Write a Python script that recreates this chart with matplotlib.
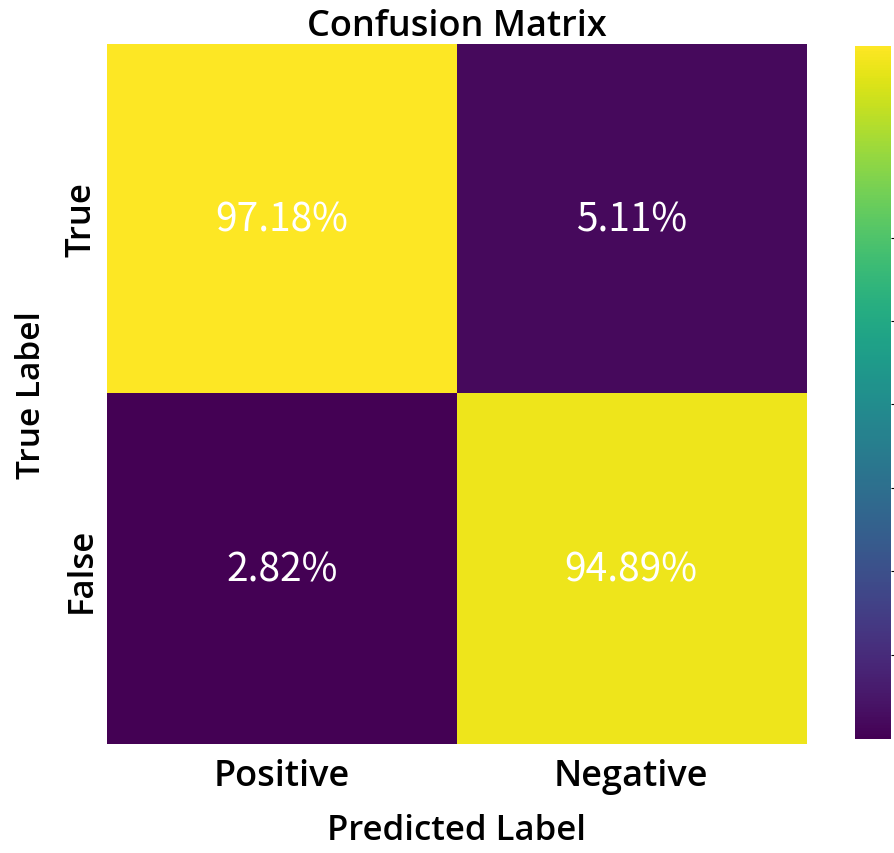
import matplotlib
matplotlib.use("Agg")
import matplotlib.pyplot as plt
import numpy as np

# Confusion matrix values (percent)
row_labels = ["True", "False"]
col_labels = ["Positive", "Negative"]
values = [[97.18, 5.11],
          [2.82, 94.89]]

# colour bar tick positions (labels are hidden)
cbar_ticks = [14.3, 25.7, 37.0, 48.4, 59.7, 71.1]

plt.rcParams['font.family'] = ['Noto Sans CJK KR', 'DejaVu Sans']

W, H = 894, 854
fig = plt.figure(figsize=(W / 100, H / 100), dpi=100)

ax = fig.add_axes([107 / W, 1 - 745 / H, (806 - 107) / W, (745 - 45) / H])
cax = fig.add_axes([855 / W, 1 - 740 / H, (891 - 855) / W, (740 - 47) / H])

data = np.array(values)
im = ax.imshow(data, cmap="viridis", aspect="auto",
               vmin=data.min(), vmax=data.max())

for i in range(data.shape[0]):
    for j in range(data.shape[1]):
        ax.text(j, i, f"{data[i, j]:.2f}%", ha="center", va="center",
                color="white", fontsize=28)

lab_font = dict(family=["Open Sans", "DejaVu Sans"], weight=600)
ax.set_xticks(range(len(col_labels)))
ax.set_xticklabels(col_labels, fontsize=26, **lab_font)
ax.set_yticks(range(len(row_labels)))
ax.set_yticklabels(row_labels, fontsize=25, rotation=90, va="center",
                   **lab_font)
ax.tick_params(axis="x", length=0, pad=10)
ax.tick_params(axis="y", length=0, pad=6)
for s in ax.spines.values():
    s.set_visible(False)

ax.set_title("Confusion Matrix", fontsize=26, pad=3, **lab_font)
ax.set_xlabel("Predicted Label", fontsize=25, labelpad=14, **lab_font)
ax.set_ylabel("True Label", fontsize=24, labelpad=12, **lab_font)

cb = fig.colorbar(im, cax=cax)
cb.outline.set_visible(False)
cb.set_ticks(cbar_ticks)
cb.ax.tick_params(length=3, width=0.8, labelright=False)

fig.savefig("out.png", dpi=100)
